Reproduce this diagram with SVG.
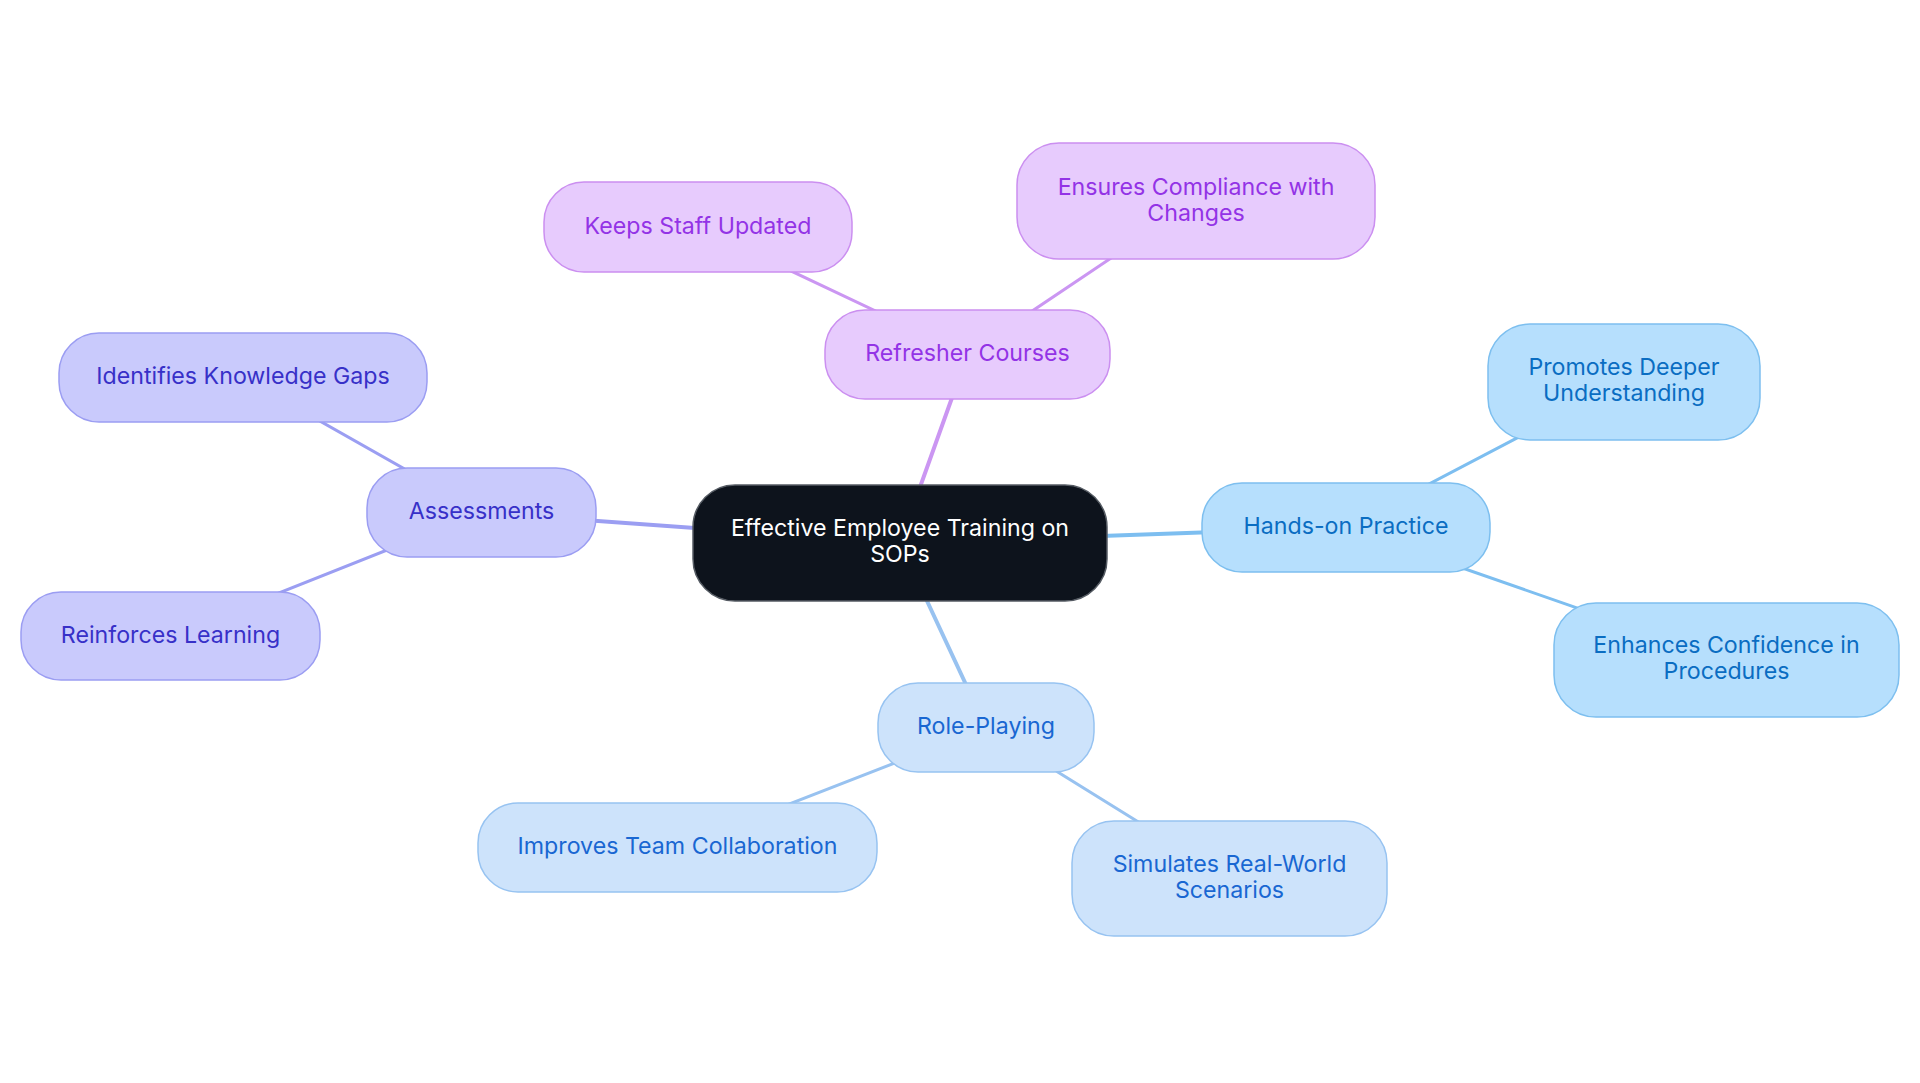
<svg xmlns="http://www.w3.org/2000/svg" width="1920" height="1083" viewBox="0 0 1920 1083">
<style>
text{font-family:Inter,"Noto Sans",sans-serif;font-size:23.2px;text-anchor:middle}
.node rect{stroke-width:1.5}
.p rect{fill:#E7CBFD;stroke:#CB8FF0}.p text{fill:#9333E6}
.a rect{fill:#C9CAFC;stroke:#9B9DF2}.a text{fill:#3730C8}
.h rect{fill:#B6DFFD;stroke:#7DBFEF}.h text{fill:#0A6DC2}
.r rect{fill:#CDE3FB;stroke:#97C3F1}.r text{fill:#1967D2}
.c rect{fill:#0D131C;stroke:#555B63}.c text{fill:#FFFFFF}
#edges line{stroke-width:3;stroke-linecap:round}
#edges .root{stroke-width:4}
.ep{stroke:#CB96F2}.ea{stroke:#9B9EF2}.eh{stroke:#7DBEF0}.er{stroke:#98C2F0}
</style>
<rect width="1920" height="1083" fill="#FFFFFF"/>
<g id="edges">
<line class="ep root" x1="900" y1="543" x2="967.5" y2="354.5"/>
<line class="ep" x1="967.5" y1="354.5" x2="698" y2="227"/>
<line class="ep" x1="967.5" y1="354.5" x2="1196" y2="201"/>
<line class="ea root" x1="900" y1="543" x2="481.5" y2="512.5"/>
<line class="ea" x1="481.5" y1="512.5" x2="243" y2="377.5"/>
<line class="ea" x1="481.5" y1="512.5" x2="170.5" y2="636"/>
<line class="eh root" x1="900" y1="543" x2="1346" y2="527.5"/>
<line class="eh" x1="1346" y1="527.5" x2="1624" y2="382"/>
<line class="eh" x1="1346" y1="527.5" x2="1726.5" y2="660"/>
<line class="er root" x1="900" y1="543" x2="986" y2="727.5"/>
<line class="er" x1="986" y1="727.5" x2="677.5" y2="847.5"/>
<line class="er" x1="986" y1="727.5" x2="1229.5" y2="878.5"/>
</g>
<g id="n-center" class="node c"><rect x="693" y="485" width="414" height="116" rx="42"/><text x="900" y="536">Effective Employee Training on</text><text x="900" y="562">SOPs</text></g>
<g id="n-refresher" class="node p"><rect x="825" y="310" width="285" height="89" rx="40"/><text x="967.5" y="361">Refresher Courses</text></g>
<g id="n-keeps" class="node p"><rect x="544" y="182" width="308" height="90" rx="40"/><text x="698" y="234">Keeps Staff Updated</text></g>
<g id="n-ensures" class="node p"><rect x="1017" y="143" width="358" height="116" rx="42"/><text x="1196" y="195">Ensures Compliance with</text><text x="1196" y="221">Changes</text></g>
<g id="n-assess" class="node a"><rect x="367" y="468" width="229" height="89" rx="40"/><text x="481.5" y="519">Assessments</text></g>
<g id="n-identifies" class="node a"><rect x="59" y="333" width="368" height="89" rx="40"/><text x="243" y="384">Identifies Knowledge Gaps</text></g>
<g id="n-reinforces" class="node a"><rect x="21" y="592" width="299" height="88" rx="40"/><text x="170.5" y="643">Reinforces Learning</text></g>
<g id="n-hands" class="node h"><rect x="1202" y="483" width="288" height="89" rx="40"/><text x="1346" y="534">Hands-on Practice</text></g>
<g id="n-promotes" class="node h"><rect x="1488" y="324" width="272" height="116" rx="42"/><text x="1624" y="375">Promotes Deeper</text><text x="1624" y="401">Understanding</text></g>
<g id="n-enhances" class="node h"><rect x="1554" y="603" width="345" height="114" rx="42"/><text x="1726.5" y="653">Enhances Confidence in</text><text x="1726.5" y="679">Procedures</text></g>
<g id="n-role" class="node r"><rect x="878" y="683" width="216" height="89" rx="40"/><text x="986" y="734">Role-Playing</text></g>
<g id="n-improves" class="node r"><rect x="478" y="803" width="399" height="89" rx="40"/><text x="677.5" y="854">Improves Team Collaboration</text></g>
<g id="n-simulates" class="node r"><rect x="1072" y="821" width="315" height="115" rx="42"/><text x="1229.5" y="872">Simulates Real-World</text><text x="1229.5" y="898">Scenarios</text></g>
</svg>
